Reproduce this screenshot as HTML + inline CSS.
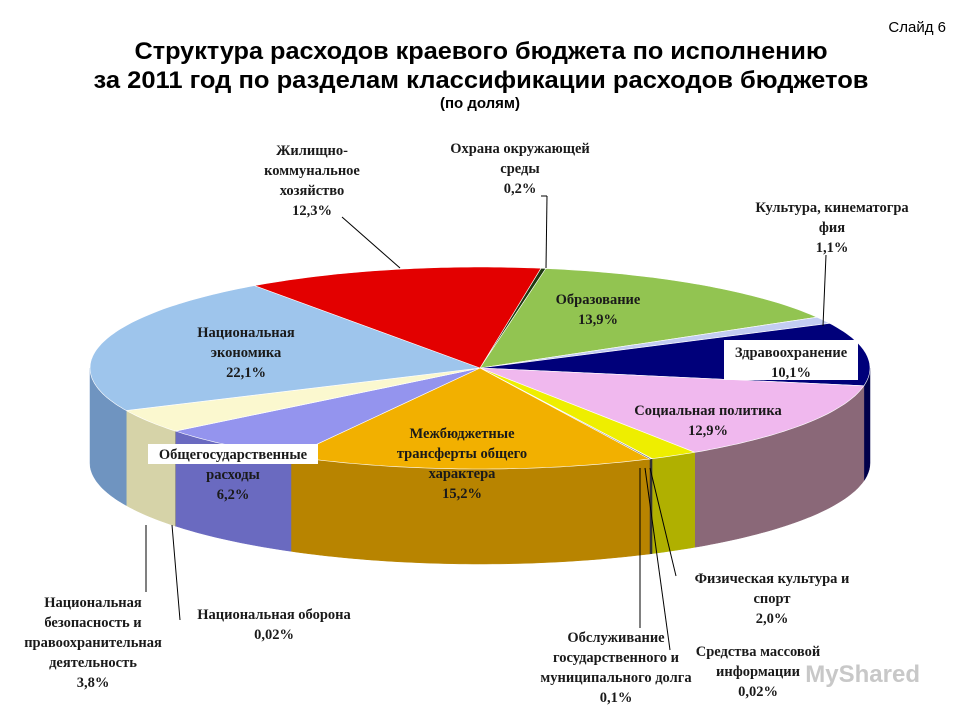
<!DOCTYPE html>
<html><head><meta charset="utf-8"><style>
html,body{margin:0;padding:0;background:#fff;}
svg{display:block;}
.t{font-family:"Liberation Sans",sans-serif;font-weight:bold;fill:#000;}
.l{font-family:"Liberation Serif",serif;font-weight:bold;font-size:14.5px;fill:#1a1a1a;}
</style></head><body>
<svg id="c" width="960" height="720" viewBox="0 0 960 720" xmlns="http://www.w3.org/2000/svg">
<text x="946" y="32" text-anchor="end" font-family="Liberation Sans,sans-serif" font-size="15">Слайд 6</text>
<text class="t" x="481" y="59" text-anchor="middle" font-size="24" textLength="693" lengthAdjust="spacingAndGlyphs">Структура расходов краевого бюджета по исполнению</text>
<text class="t" x="481" y="88" text-anchor="middle" font-size="24" textLength="775" lengthAdjust="spacingAndGlyphs">за 2011 год по разделам классификации расходов бюджетов</text>
<text class="t" x="480" y="108" text-anchor="middle" font-size="15">(по долям)</text>
<g id="sides"></g><g id="tops"></g><g id="labels"></g>
<text x="920" y="682" text-anchor="end" font-family="Liberation Sans,sans-serif" font-size="24" font-weight="bold" fill="#c8c8c8">MyShared</text>
</svg>
<script>
const categories=["Охрана окружающей среды","Образование","Культура, кинематография","Здравоохранение","Социальная политика","Физическая культура и спорт","Средства массовой информации","Обслуживание государственного и муниципального долга","Межбюджетные трансферты общего характера","Общегосударственные расходы","Национальная оборона","Национальная безопасность и правоохранительная деятельность","Национальная экономика","Жилищно-коммунальное хозяйство"];
const values=[0.2,13.9,1.1,10.1,12.9,2.0,0.02,0.1,15.2,6.2,0.02,3.8,22.1,12.3];
const topColors=["#1f3a10","#92c451","#c3cdf2","#00007a","#f0b8ee","#eeee00","#777","#555","#f2b000","#9494ee","#666","#fbf8cf","#9ec5ec","#e30000"];
const sideColors=["#10200a","#5f8a30","#8a94b8","#00004a","#8a6878","#b0b000","#444","#333","#b88400","#6a6ac0","#444","#d6d3a8","#6f94c0","#900000"];
const cx=480,cy=368,rx=390,ry=101,depth=95,start=-81;
const total=values.reduce((a,b)=>a+b,0);
const NS="http://www.w3.org/2000/svg";
const sides=document.getElementById('sides'),tops=document.getElementById('tops');
function pt(t,dy){const r=t*Math.PI/180;return [cx+rx*Math.cos(r),cy+ry*Math.sin(r)+(dy||0)];}
function arc(a,b,dy){let s="";const n=Math.max(2,Math.ceil(Math.abs(b-a)));for(let i=0;i<=n;i++){const p=pt(a+(b-a)*i/n,dy);s+=(i?"L":"")+p[0].toFixed(1)+","+p[1].toFixed(1);}return s;}
let acc=start;
values.forEach((v,i)=>{
  const a=acc,b=acc+v/total*360;acc=b;
  [[0,180],[360,540]].forEach(rg=>{
    const s=Math.max(a,rg[0]),e=Math.min(b,rg[1]);
    if(e>s){
      const p=document.createElementNS(NS,'path');
      p.setAttribute('d',"M"+arc(s,e,0)+"L"+arc(e,s,depth)+"Z");
      p.setAttribute('fill',sideColors[i]);p.setAttribute('stroke',sideColors[i]);p.setAttribute('stroke-width','0.5');
      
      
      sides.appendChild(p);
    }
  });
  const p=document.createElementNS(NS,'path');
  p.setAttribute('d',"M"+cx+","+cy+"L"+arc(a,b,0)+"Z");
  p.setAttribute('fill',topColors[i]);p.setAttribute('stroke','#fff');p.setAttribute('stroke-width','0.6');
  
  
  tops.appendChild(p);
});
const labelsG=document.getElementById('labels');
const labelLines=[
 [["Охрана окружающей","среды","0,2%"],520,153],
 [["Образование","13,9%"],598,304],
 [["Культура, кинематогра","фия","1,1%"],832,212],
 [["Социальная политика","12,9%"],708,415],
 [["Физическая культура и","спорт","2,0%"],772,583],
 [["Средства массовой","информации","0,02%"],758,656],
 [["Обслуживание","государственного и","муниципального долга","0,1%"],616,642],
 [["Межбюджетные","трансферты общего","характера","15,2%"],462,438],
 [["Национальная оборона","0,02%"],274,619],
 [["Национальная","безопасность и","правоохранительная","деятельность","3,8%"],93,607],
 [["Национальная","экономика","22,1%"],246,337],
 [["Жилищно-","коммунальное","хозяйство","12,3%"],312,155]
];
const box=document.createElementNS(NS,'rect');
box.setAttribute('x','724');box.setAttribute('y','340');box.setAttribute('width','134');box.setAttribute('height','40');box.setAttribute('fill','#fff');


labelsG.appendChild(box);
labelLines.push([["Здравоохранение","10,1%"],791,357]);
const box2=document.createElementNS(NS,'rect');
box2.setAttribute('x','148');box2.setAttribute('y','444');box2.setAttribute('width','170');box2.setAttribute('height','20');box2.setAttribute('fill','#fff');


labelsG.appendChild(box2);
labelLines.push([["Общегосударственные","расходы","6,2%"],233,459]);
labelLines.forEach((L,k)=>{
  L[0].forEach((ln,j)=>{
    const t=document.createElementNS(NS,'text');
    t.setAttribute('class','l');t.setAttribute('x',L[1]);t.setAttribute('y',L[2]+j*20);t.setAttribute('text-anchor','middle');
    t.textContent=ln;
    
    
    labelsG.appendChild(t);
  });
});
const leaders=[[342,217,400,268],[541,196,547,196],[547,196,546,268],[826,255,823,326],[146,525,146,592],[172,525,180,620],[640,468,640,628],[650,468,676,576],[645,468,670,650]];
leaders.forEach((d,k)=>{
  const l=document.createElementNS(NS,'line');
  l.setAttribute('x1',d[0]);l.setAttribute('y1',d[1]);l.setAttribute('x2',d[2]);l.setAttribute('y2',d[3]);
  l.setAttribute('stroke','#000');l.setAttribute('stroke-width','1');
  
  
  labelsG.appendChild(l);
});
</script>
</body></html>
